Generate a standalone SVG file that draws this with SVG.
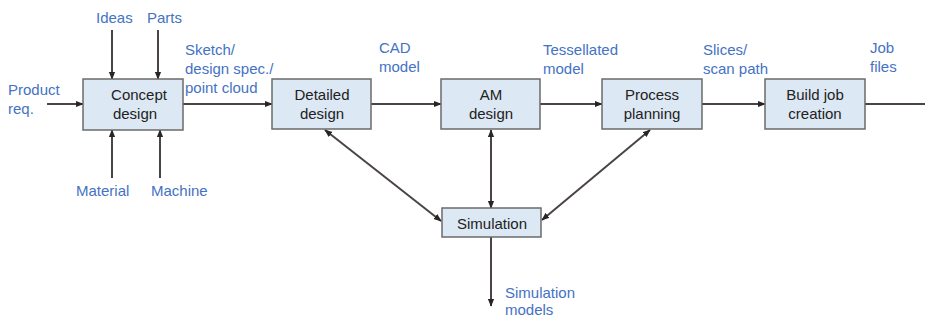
<svg xmlns="http://www.w3.org/2000/svg" width="925" height="320" viewBox="0 0 925 320">
<defs>
<style>
.box{fill:#dce8f4;stroke:#6b6b6b;stroke-width:1.5}
.nt{font-family:"Liberation Sans",Arial,sans-serif;font-size:15px;fill:#222;text-anchor:middle}
.lb{font-family:"Liberation Sans",Arial,sans-serif;font-size:15px;fill:#4472c4}
.ln{stroke:#4a4446;stroke-width:2;fill:none}
</style>
<marker id="ah" viewBox="0 0 10 10" refX="9" refY="5" markerWidth="4" markerHeight="4" orient="auto-start-reverse">
<path d="M0,1 L10,5 L0,9 Z" fill="#2a2426"/>
</marker>
</defs>
<rect width="925" height="320" fill="#ffffff"/>
<g id="connectors">
<line class="ln" x1="47" y1="104" x2="83" y2="104" marker-end="url(#ah)"/>
<line class="ln" x1="112" y1="30" x2="112" y2="79" marker-end="url(#ah)"/>
<line class="ln" x1="158" y1="30" x2="158" y2="79" marker-end="url(#ah)"/>
<line class="ln" x1="112" y1="178" x2="112" y2="130" marker-end="url(#ah)"/>
<line class="ln" x1="160" y1="178" x2="160" y2="130" marker-end="url(#ah)"/>
<line class="ln" x1="183" y1="104" x2="272" y2="104" marker-end="url(#ah)"/>
<line class="ln" x1="371" y1="104" x2="441" y2="104" marker-end="url(#ah)"/>
<line class="ln" x1="540" y1="104" x2="602" y2="104" marker-end="url(#ah)"/>
<line class="ln" x1="702" y1="104" x2="765" y2="104" marker-end="url(#ah)"/>
<line class="ln" x1="865" y1="104" x2="925" y2="104"/>
<line class="ln" x1="325" y1="130" x2="441" y2="221" marker-start="url(#ah)" marker-end="url(#ah)"/>
<line class="ln" x1="491" y1="130" x2="491" y2="208" marker-start="url(#ah)" marker-end="url(#ah)"/>
<line class="ln" x1="650" y1="130" x2="542" y2="220" marker-start="url(#ah)" marker-end="url(#ah)"/>
<line class="ln" x1="491" y1="237" x2="491" y2="306" marker-end="url(#ah)"/>
</g>
<g id="concept">
<rect class="box" x="83" y="79" width="100" height="51"/>
<text class="nt" x="139" y="100">Concept</text>
<text class="nt" x="135" y="119">design</text>
</g>
<g id="detailed">
<rect class="box" x="272" y="79" width="99" height="50"/>
<text class="nt" x="322" y="100">Detailed</text>
<text class="nt" x="322" y="119">design</text>
</g>
<g id="am">
<rect class="box" x="441" y="79" width="99" height="50"/>
<text class="nt" x="491" y="100">AM</text>
<text class="nt" x="491" y="119">design</text>
</g>
<g id="process">
<rect class="box" x="602" y="79" width="100" height="50"/>
<text class="nt" x="652" y="100">Process</text>
<text class="nt" x="652" y="119">planning</text>
</g>
<g id="build">
<rect class="box" x="765" y="79" width="100" height="50"/>
<text class="nt" x="815" y="100">Build job</text>
<text class="nt" x="815" y="119">creation</text>
</g>
<g id="simulation">
<rect class="box" x="442" y="208" width="99" height="29"/>
<text class="nt" x="492" y="229">Simulation</text>
</g>
<g id="labels">
<text class="lb" x="96" y="23">Ideas</text>
<text class="lb" x="147" y="23">Parts</text>
<text class="lb" x="8" y="95">Product</text>
<text class="lb" x="8" y="114">req.</text>
<text class="lb" x="76" y="196">Material</text>
<text class="lb" x="151" y="196">Machine</text>
<text class="lb" x="185" y="55">Sketch/</text>
<text class="lb" x="185" y="74">design spec./</text>
<text class="lb" x="185" y="93">point cloud</text>
<text class="lb" x="379" y="53">CAD</text>
<text class="lb" x="379" y="72">model</text>
<text class="lb" x="543" y="55">Tessellated</text>
<text class="lb" x="543" y="74">model</text>
<text class="lb" x="703" y="55">Slices/</text>
<text class="lb" x="703" y="74">scan path</text>
<text class="lb" x="870" y="53">Job</text>
<text class="lb" x="870" y="72">files</text>
<text class="lb" x="505" y="298">Simulation</text>
<text class="lb" x="505" y="315">models</text>
</g>
</svg>
